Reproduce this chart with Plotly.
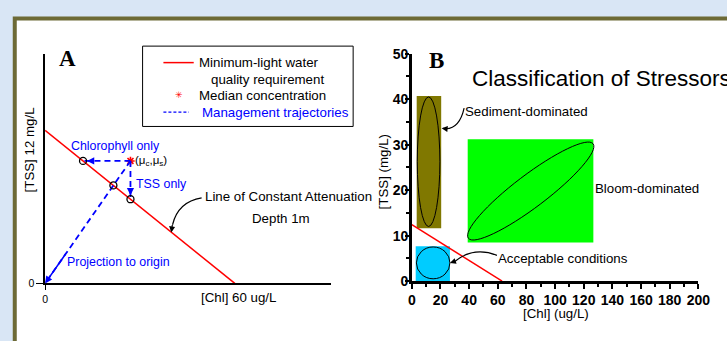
import numpy as np
import plotly.graph_objects as go

W, H = 727, 341

# ---- Panel A: minimum-light requirement schematic ----
req_chl = [0, 60]          # ug/L
req_tss = [12, 0]          # mg/L
median_chl = 27.0
median_tss = 9.6

# ---- Panel B: stressor classes (rectangle bounds and ellipses) ----
sed_rect_chl = [3.4, 20.5]
sed_rect_tss = [11.6, 40.7]
sed_ell_chl = [3.8, 19.6]
sed_ell_tss = [12.0, 40.5]

bloom_rect_chl = [39.0, 126.7]
bloom_rect_tss = [8.5, 31.2]
bloom_center = [83.0, 19.8]
bloom_major = [43.5, 10.4]
bloom_minor = [7.0, -2.8]

acc_rect_chl = [2.7, 26.6]
acc_rect_tss = [0.0, 7.65]
acc_ell_chl = [3.2, 26.6]
acc_ell_tss = [0.5, 7.5]

b_req_chl = [0, 63]
b_req_tss = [12.4, 0]

b_xticks = list(range(0, 201, 20))
b_yticks = list(range(0, 51, 10))

FONT = "Liberation Sans"
SERIF = "Liberation Serif"
BLUE = "#0000ff"
RED = "#ff0000"
TXT = 13.3
BTXT = 12.4


def px(x):
    return x / W


def py(y):
    return 1 - y / H


# derived targets on the requirement line
slope = (req_tss[1] - req_tss[0]) / (req_chl[1] - req_chl[0])
icpt = req_tss[0]
chl_only = ((median_tss - icpt) / slope, median_tss)
tss_only = (median_chl, icpt + slope * median_chl)
t = icpt / (median_tss - slope * median_chl)
proj = (median_chl * t, median_tss * t)

fig = go.Figure()

fig.add_trace(go.Scatter(
    x=req_chl, y=req_tss, mode="lines", line=dict(color=RED, width=1.5),
    name="Minimum-light water quality requirement",
    xaxis="x", yaxis="y", cliponaxis=False))

fig.add_trace(go.Scatter(
    x=[median_chl], y=[median_tss], mode="markers",
    marker=dict(symbol="asterisk-open", size=7, color=RED, line=dict(color=RED, width=1.6)),
    name="Median concentration", xaxis="x", yaxis="y"))

for i, (tx, ty) in enumerate([chl_only, tss_only, (0, 0)]):
    fig.add_trace(go.Scatter(
        x=[median_chl, tx], y=[median_tss, ty], mode="lines",
        line=dict(color=BLUE, width=1.8, dash="6px,4px"),
        name="Management trajectories", xaxis="x", yaxis="y", cliponaxis=False))

fig.add_trace(go.Scatter(
    x=[chl_only[0], proj[0], tss_only[0]], y=[chl_only[1], proj[1], tss_only[1]],
    mode="markers", marker=dict(symbol="circle-open", size=7, color="black",
                                line=dict(color="black", width=1.3)),
    name="Targets", xaxis="x", yaxis="y"))

fig.add_trace(go.Scatter(
    x=b_req_chl, y=b_req_tss, mode="lines", line=dict(color=RED, width=1.5),
    name="Requirement", xaxis="x2", yaxis="y2", cliponaxis=False))

annotations = []

# arrowheads on the trajectories
for (tx, ty), so in [(chl_only, 4), (tss_only, 4), ((0, 0), 0)]:
    annotations.append(dict(
        x=tx, y=ty, ax=tx + 0.25 * (median_chl - tx), ay=ty + 0.25 * (median_tss - ty),
        xref="x", yref="y", axref="x", ayref="y", text="", showarrow=True,
        arrowhead=2, arrowsize=0.9, arrowwidth=1.6, arrowcolor=BLUE, standoff=so))


def label(text, x, y, size=TXT, color="black", anchor="left", family=FONT, **kw):
    annotations.append(dict(
        text=text, x=px(x), y=py(y), xref="paper", yref="paper", showarrow=False,
        xanchor=anchor, yanchor="middle", font=dict(family=family, size=size, color=color), **kw))


label("<b>A</b>", 65, 52.5, size=23, anchor="center", family=SERIF)
label("Chlorophyll only", 66, 145, size=BTXT, color=BLUE)
label("(\u03bc<sub>c</sub>,\u03bc<sub>s</sub>)", 132, 161, size=11.5)
label("TSS only", 133, 185, size=BTXT, color=BLUE)
label("Line of Constant Attenuation", 203, 197.5)
label("Depth 1m", 252, 221)
label("Projection to origin", 62, 267, size=BTXT, color=BLUE)
label("[Chl] 60 ug/L", 199, 304)
label("[TSS] 12 mg/L", 26, 149, anchor="center", textangle=-90)

# key box for panel A
label("Minimum-light water", 197, 57.3)
label("quality requirement", 210, 75.2)
label("Median concentration", 197, 92.3)
label("Management trajectories", 200, 110, color=BLUE)
label("\u2733", 179, 91.5, size=9, color=RED, anchor="center")

label("<b>B</b>", 442, 55, size=23, anchor="center", family=SERIF)
label("Classification of Stressors", 476, 73.5, size=22.5)
label("Sediment-dominated", 469, 109)
label("Bloom-dominated", 602, 189)
label("Acceptable conditions", 503, 262.5)
label("[TSS] (mg/L)", 388, 172, anchor="center", textangle=-90)
label("[Chl] (ug/L)", 564, 321, anchor="center")

# arrowheads for the curved callouts
for (hx, hy, tx2, ty2, xr, yr) in [
    (39.9, 4.0, 40.3, 4.7, "x", "y"),
    (20.8, 33.6, 23.9, 33.5, "x2", "y2"),
    (26.6, 3.98, 30.0, 4.35, "x2", "y2"),
]:
    annotations.append(dict(
        x=hx, y=hy, ax=tx2, ay=ty2, xref=xr, yref=yr, axref=xr, ayref=yr,
        text="", showarrow=True, arrowhead=2, arrowsize=1, arrowwidth=1.2, arrowcolor="black"))

shapes = []
# white panel with olive frame
shapes.append(dict(type="rect", xref="paper", yref="paper", x0=px(11), x1=1.3,
                   y0=-0.3, y1=py(11), line=dict(color="#6d6a36", width=4),
                   fillcolor="white", layer="below"))

# key box frame and line samples
shapes.append(dict(type="rect", xref="paper", yref="paper", x0=px(141.7), x1=px(357),
                   y0=py(124.3), y1=py(40), line=dict(color="black", width=1),
                   fillcolor="white"))
shapes.append(dict(type="line", xref="paper", yref="paper", x0=px(163), x1=px(194),
                   y0=py(57.3), y1=py(57.3), line=dict(color=RED, width=1.5)))
shapes.append(dict(type="line", xref="paper", yref="paper", x0=px(163), x1=px(189),
                   y0=py(109.3), y1=py(109.3), line=dict(color=BLUE, width=1.2, dash="3px,2px")))

# class regions
for (cx, cy, col) in [(sed_rect_chl, sed_rect_tss, "#807800"),
                      (bloom_rect_chl, bloom_rect_tss, "#00ff00"),
                      (acc_rect_chl, acc_rect_tss, "#00ccff")]:
    shapes.append(dict(type="rect", xref="x2", yref="y2", x0=cx[0], x1=cx[1],
                       y0=cy[0], y1=cy[1], line=dict(width=0), fillcolor=col, layer="below"))

for (ex, ey) in [(sed_ell_chl, sed_ell_tss), (acc_ell_chl, acc_ell_tss)]:
    shapes.append(dict(type="circle", xref="x2", yref="y2", x0=ex[0], x1=ex[1],
                       y0=ey[0], y1=ey[1], line=dict(color="black", width=1)))


def ellipse_path(c, a, b):
    k = 0.5523
    c, a, b = np.array(c), np.array(a), np.array(b)

    def P(th):
        return c + a * np.cos(th) + b * np.sin(th)

    def D(th):
        return -a * np.sin(th) + b * np.cos(th)

    th = [0, np.pi / 2, np.pi, 3 * np.pi / 2, 2 * np.pi]
    p0 = P(0)
    s = f"M {p0[0]:.3f},{p0[1]:.3f}"
    for i in range(4):
        q0, q1 = P(th[i]), P(th[i + 1])
        c1 = q0 + k * D(th[i])
        c2 = q1 - k * D(th[i + 1])
        s += f" C {c1[0]:.3f},{c1[1]:.3f} {c2[0]:.3f},{c2[1]:.3f} {q1[0]:.3f},{q1[1]:.3f}"
    return s + " Z"


shapes.append(dict(type="path", xref="x2", yref="y2",
                   path=ellipse_path(bloom_center, bloom_major, bloom_minor),
                   line=dict(color="black", width=1)))

# curved callout lines
for (path, xr, yr) in [
    ("M 49.5,6.7 Q 42.1,6.4 40.3,4.6", "x", "y"),
    ("M 36.5,38.05 Q 33.4,33.65 23.9,33.5", "x2", "y2"),
    ("M 59.4,5.66 Q 43.0,7.65 30.0,4.3", "x2", "y2"),
]:
    shapes.append(dict(type="path", xref=xr, yref=yr, path=path,
                       line=dict(color="black", width=1.2)))

fig.update_layout(
    width=W, height=H, margin=dict(l=0, r=0, t=0, b=0),
    paper_bgcolor="#d9e6f5", plot_bgcolor="white",
    font=dict(family=FONT, size=12, color="black"),
    showlegend=False,
    xaxis=dict(domain=[px(42), px(334)], range=[0, 90.3], showline=True, linecolor="black",
               linewidth=1.5, tickvals=[0], ticks="outside", ticklen=5, tickcolor="black",
               tickfont=dict(size=10.5), showgrid=False, zeroline=False, anchor="y"),
    yaxis=dict(domain=[py(289), py(48)], range=[0, 18], showline=True, linecolor="black",
               linewidth=1.5, tickvals=[0], ticks="outside", ticklen=7, tickcolor="black",
               tickfont=dict(size=10.5), showgrid=False, zeroline=False, anchor="x"),
    xaxis2=dict(domain=[px(417), px(710)], range=[0, 200], showline=True, linecolor="black",
                linewidth=2.5, tickvals=b_xticks, ticks="outside", ticklen=5, tickwidth=2,
                tickcolor="black", tickfont=dict(size=14, weight="bold"), ticklabelstandoff=-1,
                minor=dict(dtick=10, ticks="outside", ticklen=3, tickwidth=1.5, tickcolor="black"),
                showgrid=False, zeroline=False, anchor="y2"),
    yaxis2=dict(domain=[py(286.5), py(48)], range=[0, 50], showline=True, linecolor="black",
                linewidth=2.5, tickvals=b_yticks, ticks="outside", ticklen=4, tickwidth=2,
                tickcolor="black", tickfont=dict(size=14, weight="bold"), ticklabelstandoff=-6,
                minor=dict(dtick=5, ticks="outside", ticklen=3, tickwidth=1.5, tickcolor="black"),
                showgrid=False, zeroline=False, anchor="x2"),
    annotations=annotations, shapes=shapes,
)

fig.write_html("out.html")
